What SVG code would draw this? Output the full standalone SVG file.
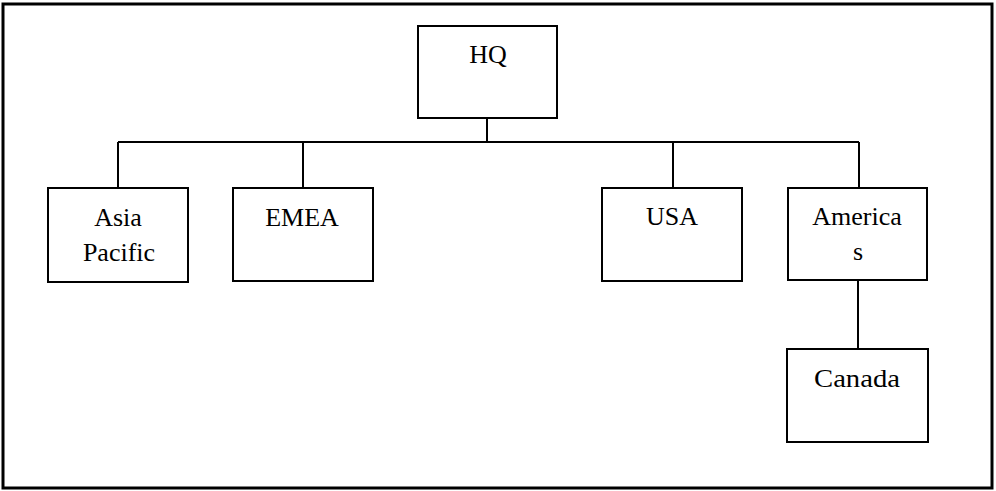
<svg xmlns="http://www.w3.org/2000/svg" width="996" height="491" viewBox="0 0 996 491">
  <style>
    .box { fill: #fff; stroke: #000; stroke-width: 2; }
    .wire { fill: none; stroke: #000; stroke-width: 2; }
    .lbl { font-family: "Liberation Serif", "Times New Roman", serif; font-size: 26px; fill: #000; text-anchor: middle; }
  </style>
  <rect width="996" height="491" fill="#fff"/>
  <!-- outer frame -->
  <rect x="3" y="4" width="989" height="484" fill="none" stroke="#000" stroke-width="3"/>

  <g id="connectors" class="wire">
    <line x1="487" y1="118" x2="487" y2="142"/>
    <line x1="118" y1="142" x2="859" y2="142"/>
    <line x1="118" y1="142" x2="118" y2="188"/>
    <line x1="303" y1="142" x2="303" y2="188"/>
    <line x1="673" y1="142" x2="673" y2="188"/>
    <line x1="859" y1="142" x2="859" y2="188"/>
    <line x1="858" y1="280" x2="858" y2="349"/>
  </g>

  <g id="hq">
    <rect class="box" x="418" y="26" width="139" height="92"/>
    <text class="lbl" x="488" y="63">HQ</text>
  </g>
  <g id="asia-pacific">
    <rect class="box" x="48" y="188" width="140" height="94"/>
    <text class="lbl" x="118" y="226">Asia</text>
    <text class="lbl" x="119" y="261">Pacific</text>
  </g>
  <g id="emea">
    <rect class="box" x="233" y="188" width="140" height="93"/>
    <text class="lbl" x="302" y="226">EMEA</text>
  </g>
  <g id="usa">
    <rect class="box" x="602" y="188" width="140" height="93"/>
    <text class="lbl" x="672" y="225">USA</text>
  </g>
  <g id="americas">
    <rect class="box" x="788" y="188" width="139" height="92"/>
    <text class="lbl" x="857" y="225">America</text>
    <text class="lbl" x="858" y="260">s</text>
  </g>
  <g id="canada">
    <rect class="box" x="787" y="349" width="141" height="93"/>
    <text class="lbl" x="857" y="387" textLength="86" lengthAdjust="spacingAndGlyphs">Canada</text>
  </g>
</svg>
